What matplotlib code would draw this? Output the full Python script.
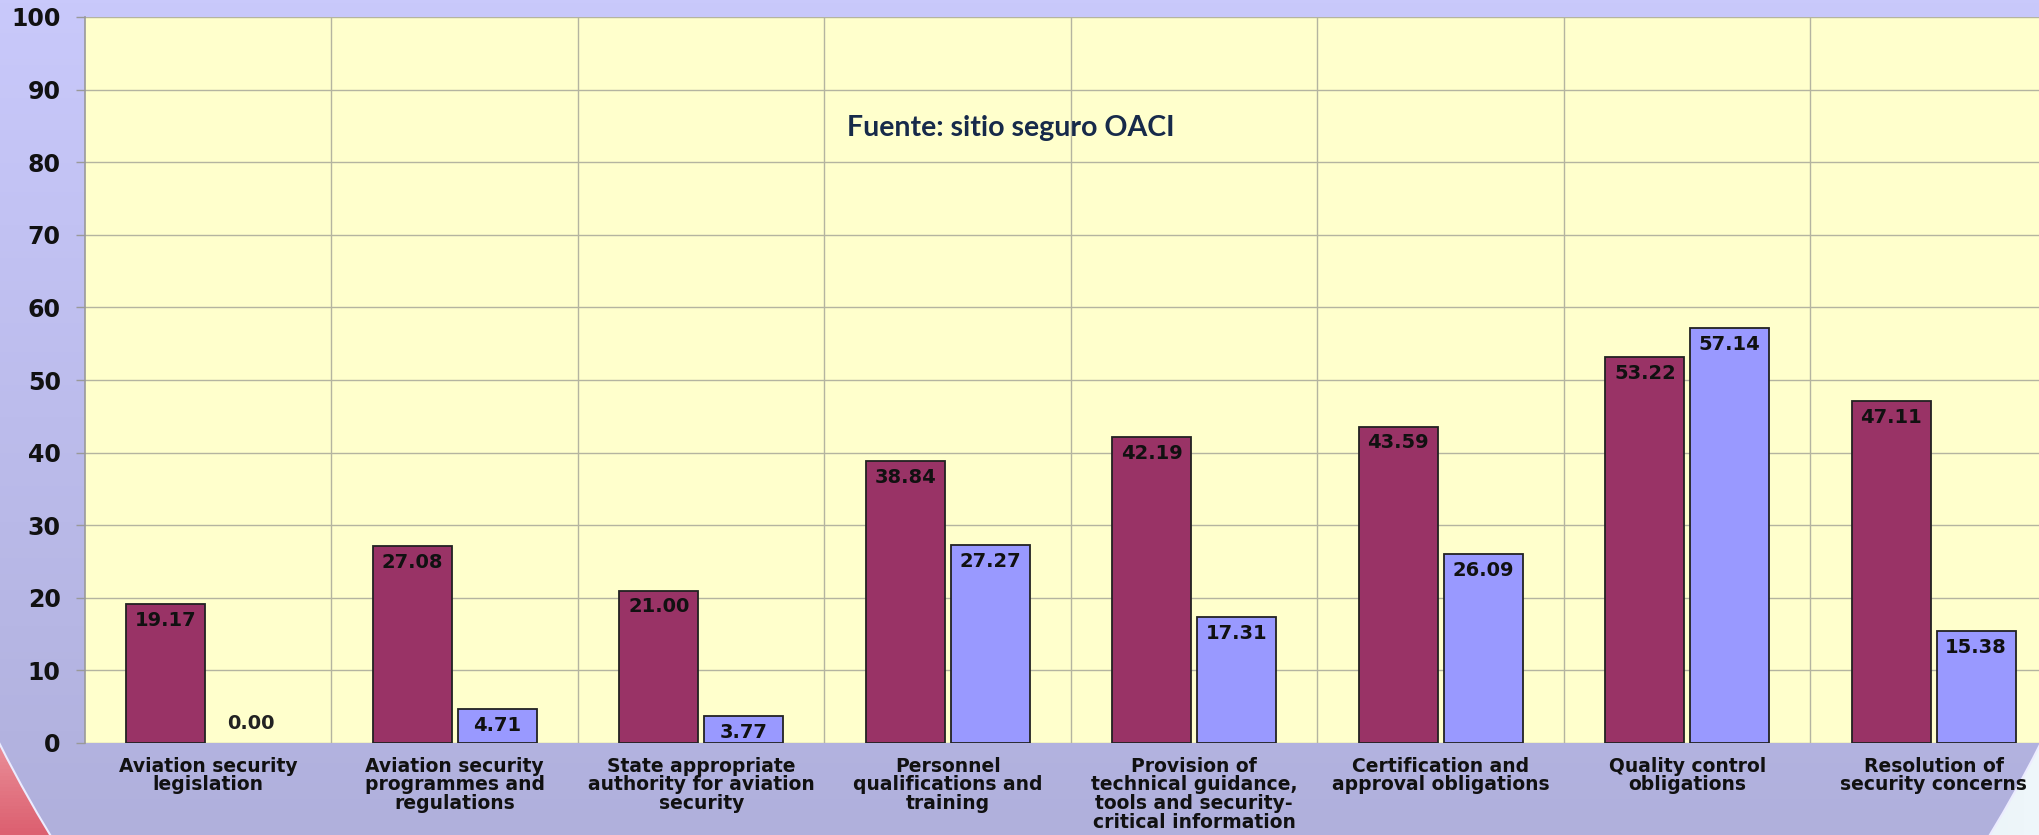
import numpy as np
import matplotlib
matplotlib.use("Agg")
import matplotlib.pyplot as plt
from matplotlib.patches import Ellipse
from matplotlib.colors import LinearSegmentedColormap

categories = [
    "Aviation security\nlegislation",
    "Aviation security\nprogrammes and\nregulations",
    "State appropriate\nauthority for aviation\nsecurity",
    "Personnel\nqualifications and\ntraining",
    "Provision of\ntechnical guidance,\ntools and security-\ncritical information",
    "Certification and\napproval obligations",
    "Quality control\nobligations",
    "Resolution of\nsecurity concerns",
]
series_a = [19.17, 27.08, 21.00, 38.84, 42.19, 43.59, 53.22, 47.11]
series_b = [0.00, 4.71, 3.77, 27.27, 17.31, 26.09, 57.14, 15.38]
y_ticks = list(range(0, 101, 10))
source_text = "Fuente: sitio seguro OACI"

W, H = 2040, 835
fig = plt.figure(figsize=(W / 100, H / 100), dpi=100)

# ---- background decoration (pixel coordinates) ----
bg = fig.add_axes([0, 0, 1, 1], zorder=-10)
bg.set_xlim(0, W)
bg.set_ylim(H, 0)
bg.axis("off")
pink = LinearSegmentedColormap.from_list("pk", ["#f8d8d8", "#ee9ca4", "#dc6070"])
bg.imshow(np.linspace(0, 1, 64).reshape(-1, 1), extent=[0, W / 2, H, 600], cmap=pink,
          aspect="auto", zorder=0)
sky = LinearSegmentedColormap.from_list("sk", ["#a8c8e0", "#d8ecf4", "#eef6fa"])
bg.imshow(np.linspace(0, 1, 64).reshape(1, -1), extent=[W / 2, W, H, 600], cmap=sky,
          aspect="auto", zorder=0)
ell = Ellipse((W / 2, 100), 2 * 1172, 2 * 1309, facecolor="none", edgecolor="#ececff",
              lw=1.5, zorder=2)
bg.add_patch(ell)
grad = np.linspace(0, 1, 256).reshape(-1, 1)
cmap = LinearSegmentedColormap.from_list("lav", ["#c9c9fb", "#bcbcec", "#b0b0dc"])
im = bg.imshow(grad, extent=[0, W, H, 0], cmap=cmap, aspect="auto", zorder=1)
im.set_clip_path(ell)

# ---- main chart ----
left = 85 / W
bottom = 1 - 743 / H
height = (743 - 17) / H
width = 8 * 246.5 / W
ax = fig.add_axes([left, bottom, width, height])
ax.set_facecolor("#ffffcc")

x = np.arange(len(categories))
bw = 0.32
off = 0.172
edge_a = ["#222222" if v > 0 else "none" for v in series_a]
edge_b = ["#222222" if v > 0 else "none" for v in series_b]
bars_a = ax.bar(x - off, series_a, bw, color="#993366", edgecolor=edge_a, linewidth=1.3, zorder=3)
bars_b = ax.bar(x + off, series_b, bw, color="#9999ff", edgecolor=edge_b, linewidth=1.3, zorder=3)

ax.set_xlim(-0.5, len(categories) - 0.5)
ax.set_ylim(0, 100)
ax.set_yticks(y_ticks)
ax.set_yticklabels([str(v) for v in y_ticks], fontsize=17, fontweight="bold",
                   family="DejaVu Sans", color="#111111")
ax.set_xticks(x)
ax.set_xticklabels(categories, fontsize=13.5, fontweight="bold", family="DejaVu Sans",
                   color="#111111", linespacing=0.97, va="top")
ax.set_xticks(x[:-1] + 0.5, minor=True)
ax.tick_params(axis="x", which="both", length=0, pad=10)
ax.tick_params(axis="y", length=6.5, width=1, color="#999999", pad=11)
ax.grid(axis="y", color="#b4b4a0", linewidth=1.0, zorder=0)
ax.grid(axis="x", which="minor", color="#b4b4a0", linewidth=1.0, zorder=0)
ax.grid(axis="x", which="major", visible=False)
ax.set_axisbelow(True)
for s in ["top", "right", "bottom"]:
    ax.spines[s].set_visible(False)
ax.spines["left"].set_color("#999999")
ax.spines["left"].set_linewidth(1.2)

for bars, vals in ((bars_a, series_a), (bars_b, series_b)):
    for b, v in zip(bars, vals):
        cx = b.get_x() + b.get_width() / 2
        if v >= 3:
            ax.annotate(f"{v:.2f}", (cx, v), xytext=(0, -5), textcoords="offset points",
                        ha="center", va="top", fontsize=14, fontweight="bold",
                        family="DejaVu Sans", color="#111111", zorder=5)
        else:
            ax.annotate(f"{v:.2f}", (cx, v), xytext=(0, 7), textcoords="offset points",
                        ha="center", va="bottom", fontsize=14, fontweight="bold",
                        family="DejaVu Sans", color="#222222", zorder=5)

fig.text(1011 / W, 1 - 128 / H, source_text, ha="center", va="center",
         fontsize=20.5, fontweight="bold", family=["Lato", "DejaVu Sans"], color="#172a4a")

fig.savefig("out.png", dpi=100)
